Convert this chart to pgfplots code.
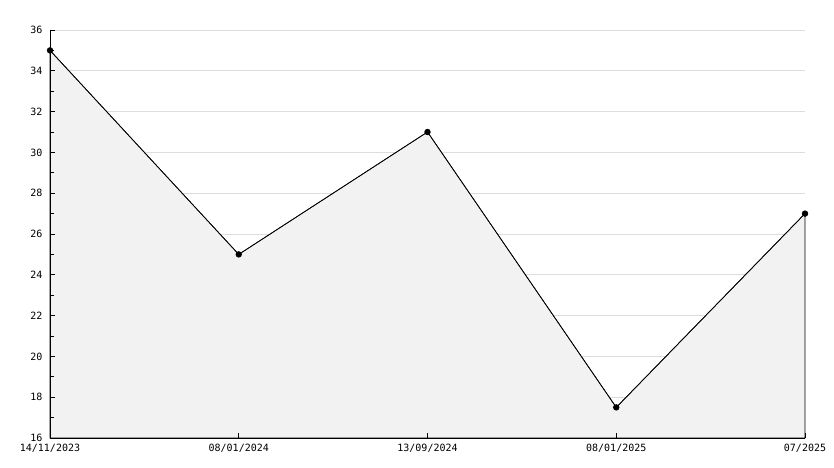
\documentclass[border=0pt]{standalone}
\usepackage{fontspec}
\setmainfont{DejaVu Sans Mono}
\usepackage{pgfplots}
\pgfplotsset{compat=1.18}
\definecolor{fillgray}{HTML}{F2F2F2}
\definecolor{gridgray}{HTML}{DDDDDD}
\pgfplotsset{
  common/.style={
    at={(50bp,30bp)}, anchor=south west,
    scale only axis, width=755bp, height=408bp,
    xmin=0, xmax=4, ymin=16, ymax=36,
    clip=false,
  }
}
\begin{document}
\begin{tikzpicture}[x=1bp,y=1bp]
\path (0,0) rectangle (834,468);
% background axis: grid and fill
\begin{axis}[
  common,
  axis x line=bottom, axis y line=left,
  axis line style={draw=none},
  xtick=\empty,
  ytick={16,18,...,36}, yticklabels={},
  major tick length=0pt,
  tick style={draw=none},
  ymajorgrids, major grid style={gridgray, line width=0.8bp, draw=gridgray},
]
\addplot[fill=fillgray, draw=black, line width=0.7bp] coordinates {(0,35) (1,25) (2,31) (3,17.5) (4,27)} \closedcycle;
\end{axis}
% foreground axis: lines, ticks, labels, series
\begin{axis}[
  common,
  axis x line=bottom, axis y line=left,
  axis line style={black, -, line width=0.9bp},
  xtick={0,1,2,3,4},
  xticklabels={14/11/2023,08/01/2024,13/09/2024,08/01/2025,07/2025},
  ytick={16,18,...,36},
  minor ytick={17,19,...,35},
  tick align=inside,
  major tick length=5bp, minor tick length=4bp,
  tick style={black, line width=0.8bp},
  /pgf/number format/assume math mode=true,
  tick label style={font=\fontsize{10bp}{12bp}\selectfont},
  xticklabel style={yshift=-3bp},
  yticklabel style={xshift=-4bp},
]
\addplot[black, line width=0.7bp, mark=*, mark size=2.8bp, mark options={fill=black}] coordinates {(0,35) (1,25) (2,31) (3,17.5) (4,27)};
\end{axis}
\end{tikzpicture}
\end{document}
